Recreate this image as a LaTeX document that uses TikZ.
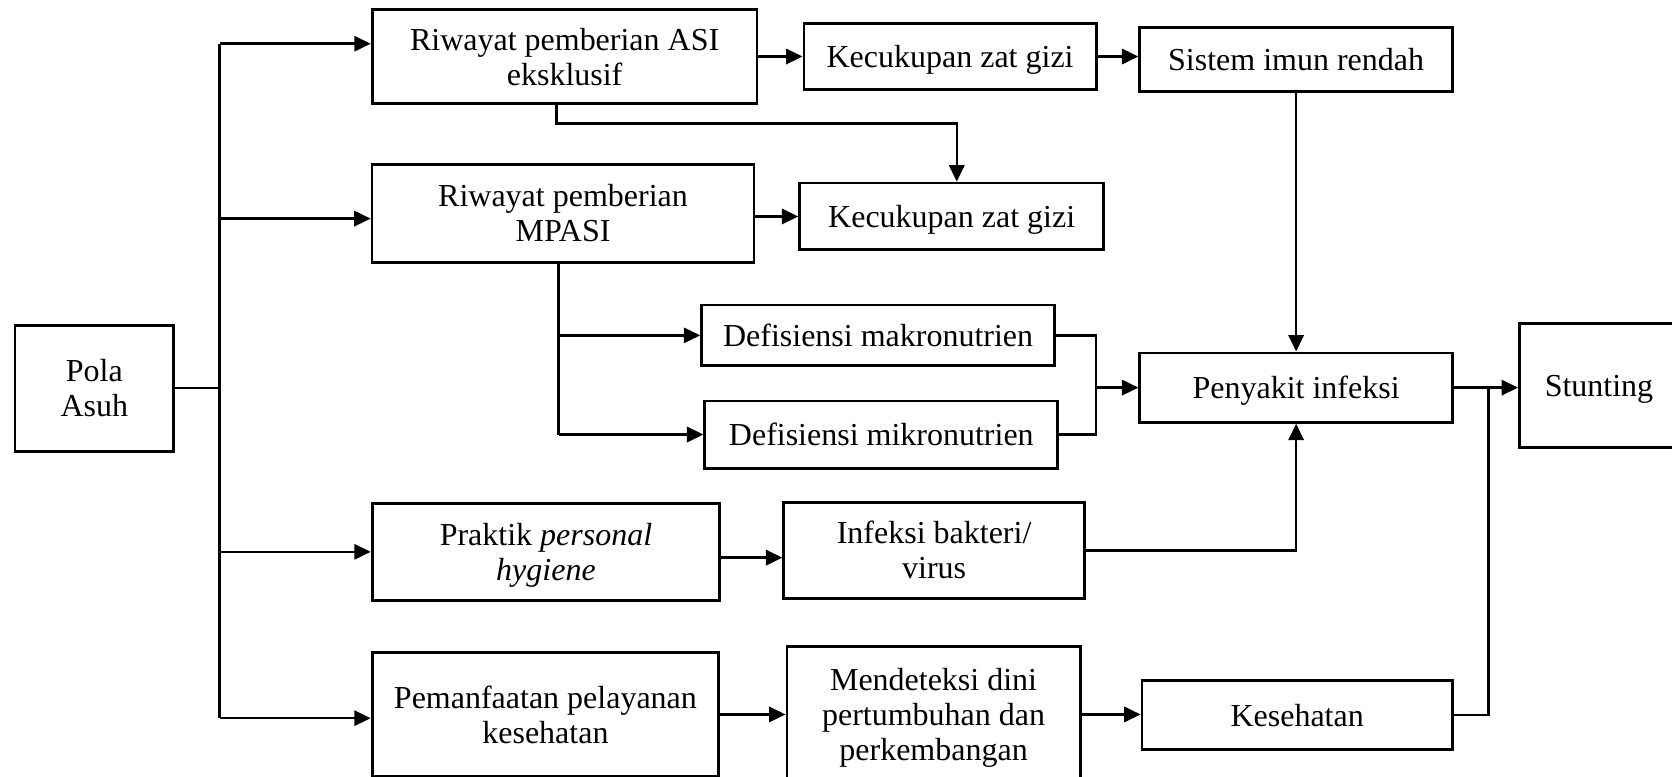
\documentclass[tikz,border=0pt]{standalone}
\usepackage{fontspec}
\setmainfont{Liberation Serif}
\usetikzlibrary{arrows.meta}
\newcommand{\ts}{\rule{0pt}{11.4pt}}
\tikzset{
    box/.style={draw, line width=1.1pt, align=center, inner sep=0pt,
        font=\fontsize{12.6pt}{13.8pt}\selectfont, text depth=2.6pt},
    link/.style={line width=1pt}
}
\begin{document}
\begin{tikzpicture}[>={Triangle[length=6.5pt,width=6pt]}, x=0.42pt, y=-0.42pt]
\useasboundingbox (0,0) rectangle (1568,728);

% kotak
\node[box, minimum width=62.6pt, minimum height=49.6pt] (pola) at (88.5,364) {\ts Pola\\Asuh};
\node[box, minimum width=151.6pt, minimum height=37pt] (asi) at (529.5,53) {\ts Riwayat pemberian ASI\\eksklusif};
\node[box, minimum width=115.1pt, minimum height=26pt] (kecA) at (891,53) {\ts Kecukupan zat gizi};
\node[box, minimum width=123.1pt, minimum height=25.2pt] (imun) at (1215.5,56) {\ts Sistem imun rendah};
\node[box, minimum width=150.4pt, minimum height=38.6pt] (mpasi) at (528,200) {\ts Riwayat pemberian\\MPASI};
\node[box, minimum width=119.7pt, minimum height=26.3pt] (kecB) at (892.5,203) {\ts Kecukupan zat gizi};
\node[box, minimum width=139pt, minimum height=23.9pt] (makro) at (823.5,314.5) {\ts Defisiensi makronutrien};
\node[box, minimum width=139pt, minimum height=26.5pt] (mikro) at (826.5,407.5) {\ts Defisiensi mikronutrien};
\node[box, minimum width=123.1pt, minimum height=27.3pt] (infeksi) at (1215.5,363.5) {\ts Penyakit infeksi};
\node[box, minimum width=62.6pt, minimum height=49.1pt] (stunting) at (1499.5,361.5) {\ts Stunting};
\node[box, minimum width=136.9pt, minimum height=38.2pt] (praktik) at (512,517.5) {\ts Praktik \textit{personal}\\\textit{hygiene}};
\node[box, minimum width=118.4pt, minimum height=37.8pt] (bakteri) at (876,516) {\ts Infeksi bakteri/\\virus};
\node[box, minimum width=136.5pt, minimum height=48.7pt] (layanan) at (511.5,670) {\ts Pemanfaatan pelayanan\\kesehatan};
\node[box, minimum width=115.5pt, minimum height=53.8pt] (deteksi) at (875.5,670) {\ts Mendeteksi dini\\pertumbuhan dan\\perkembangan};
\node[box, minimum width=122.2pt, minimum height=27.3pt] (sehat) at (1216.5,670.5) {\ts Kesehatan};

% titik cabang
\coordinate (t1) at (206,41);
\coordinate (t2) at (206,205);
\coordinate (t3) at (206,517.5);
\coordinate (t4) at (206,673.5);
\coordinate (asiout) at (522,116);
\coordinate (m1) at (524,314.5);
\coordinate (m2) at (524,407.5);
\coordinate (br) at (1028,363.5);
\coordinate (sj) at (1396,363.5);

% garis
\draw[link] (pola.east) -- (pola.east -| t1);
\draw[link] (t1) -- (t4);
\foreach \t/\b in {t1/asi, t2/mpasi, t3/praktik, t4/layanan}
    \draw[link,->] (\t) -- (\t -| \b.west);
\draw[link,->] (asi.east) -- (kecA.west);
\draw[link,->] (kecA.east) -- (kecA.east -| imun.west);
\draw[link,->] (asiout |- asi.south) -- (asiout) -| ([xshift=2pt]kecB.north);
\draw[link,->] (kecB.west -| mpasi.east) -- (kecB.west);
\draw[link] (m1 |- mpasi.south) -- (m2);
\draw[link,->] (m1) -- (makro.west);
\draw[link,->] (m2) -- (mikro.west);
\draw[link] (makro.east) -| (br);
\draw[link] (mikro.east) -| (br);
\draw[link,->] (br) -- (infeksi.west);
\draw[link,->] (imun.south) -- (infeksi.north);
\draw[link,->] (infeksi.east) -- (infeksi.east -| stunting.west);
\draw[link,->] ([yshift=-2.3pt]praktik.east) -- ([yshift=-2.3pt]praktik.east -| bakteri.west);
\draw[link,->] (bakteri.east) -| (infeksi.south);
\draw[link,->] (layanan.east) -- (layanan.east -| deteksi.west);
\draw[link,->] (deteksi.east) -- (deteksi.east -| sehat.west);
\draw[link] (sehat.east) -| (sj);
\end{tikzpicture}
\end{document}
